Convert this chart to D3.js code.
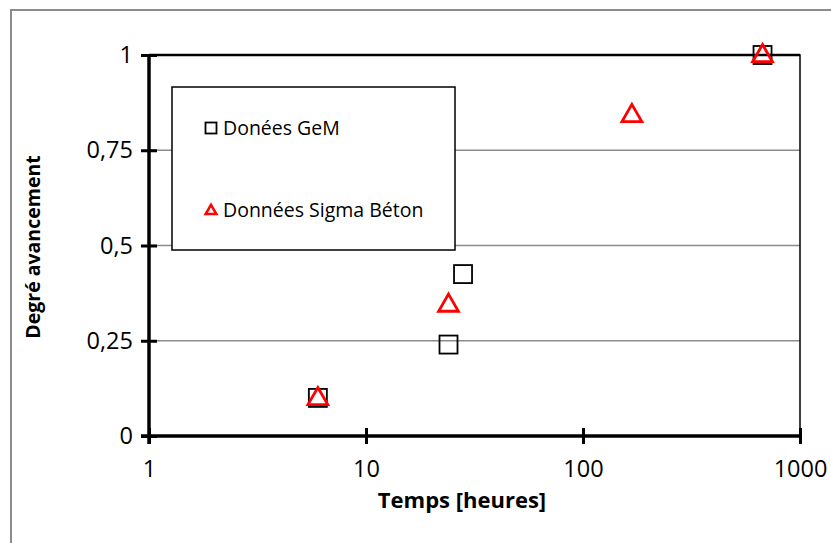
<!DOCTYPE html>
<html>
<head>
<meta charset="utf-8">
<script src="https://cdn.jsdelivr.net/npm/d3@7"></script>
<style>
  body { margin: 0; background: #fff; }
  svg { display: block; font-family: "Open Sans", sans-serif; }
</style>
</head>
<body>
<svg width="831" height="543"></svg>
<script>
// data
const gemHours = [6, 24, 28, 672];
const gemDegree = [0.1, 0.24, 0.425, 1];
const sigmaHours = [6, 24, 168, 672];
const sigmaDegree = [0.1, 0.345, 0.843, 1];
const yTicks = [0, 0.25, 0.5, 0.75, 1];
const yTickLabels = ["0", "0,25", "0,5", "0,75", "1"];
const xTicks = [1, 10, 100, 1000];
const legendLabels = ["Donées GeM", "Données Sigma Béton"];

const svg = d3.select("svg");
const x = d3.scaleLog().domain([1, 1000]).range([149, 800]);
const y = d3.scaleLinear().domain([0, 1]).range([436, 55]);

// outer frame (only top and left visible)
svg.append("path")
    .attr("d", "M11,543 V10 H831")
    .attr("fill", "none")
    .attr("stroke", "#8c8c8c")
    .attr("stroke-width", 2);

// grid
svg.append("g").selectAll("line")
    .data(yTicks.filter(d => d > 0 && d < 1))
    .enter().append("line")
    .attr("x1", x(1)).attr("x2", x(1000))
    .attr("y1", d => y(d)).attr("y2", d => y(d))
    .attr("stroke", "#8c8c8c")
    .attr("stroke-width", 1.5);

// top and right border of plot
svg.append("path")
    .attr("d", `M${x(1)},${y(1)} H${x(1000)} V${y(0)}`)
    .attr("fill", "none")
    .attr("stroke", "#000")
    .attr("stroke-width", 1.5);
svg.append("line")
    .attr("x1", x(1)).attr("x2", x(1000))
    .attr("y1", y(1)).attr("y2", y(1))
    .attr("stroke", "#000").attr("stroke-width", 2.5);

// y axis
const yAxis = svg.append("g")
    .attr("transform", `translate(${x(1)},0)`)
    .call(d3.axisLeft(y).tickValues(yTicks)
        .tickFormat((d, i) => yTickLabels[i]).tickSize(8).tickPadding(8));
yAxis.select(".domain").remove();
yAxis.selectAll(".tick line").attr("x2", 8).attr("x1", -8)
    .attr("stroke-width", 3);
yAxis.selectAll("text").attr("font-size", 23.5).attr("fill", "#000")
    .attr("font-family", "Open Sans");

// x axis
const xAxis = svg.append("g")
    .attr("transform", `translate(0,${y(0)})`)
    .call(d3.axisBottom(x).tickValues(xTicks)
        .tickFormat(d3.format("d")).tickSize(8).tickPadding(16));
xAxis.select(".domain").remove();
xAxis.selectAll(".tick line").attr("y1", -8).attr("y2", 8)
    .attr("stroke-width", 3);
xAxis.selectAll("text").attr("font-size", 23.5).attr("fill", "#000")
    .attr("font-family", "Open Sans");

svg.append("line")
    .attr("x1", x(1)).attr("x2", x(1)).attr("y1", y(1) - 1).attr("y2", y(0) + 8)
    .attr("stroke", "#000").attr("stroke-width", 3.5);
svg.append("line")
    .attr("x1", x(1) - 8).attr("x2", x(1000)).attr("y1", y(0)).attr("y2", y(0))
    .attr("stroke", "#000").attr("stroke-width", 3.5);

// legend
const legend = svg.append("g");
legend.append("rect")
    .attr("x", 172).attr("y", 87).attr("width", 283).attr("height", 163)
    .attr("fill", "#fff").attr("stroke", "#000").attr("stroke-width", 1.5);
legend.append("rect")
    .attr("x", 205.5).attr("y", 122.5).attr("width", 11).attr("height", 11)
    .attr("fill", "none").attr("stroke", "#000").attr("stroke-width", 1.8);
legend.append("path")
    .attr("d", d3.symbol(d3.symbolTriangle, 50)())
    .attr("transform", "translate(211,211)")
    .attr("fill", "none").attr("stroke", "#f00").attr("stroke-width", 2.5);
legend.selectAll("text")
    .data(legendLabels)
    .enter().append("text")
    .attr("x", 223)
    .attr("y", (d, i) => 135 + i * 82)
    .attr("font-size", 19.5)
    .text(d => d);

// series
const tri = d3.symbol(d3.symbolTriangle, 170);
svg.append("g").selectAll("rect")
    .data(gemHours)
    .enter().append("rect")
    .attr("x", d => x(d) - 9)
    .attr("y", (d, i) => y(gemDegree[i]) - 9)
    .attr("width", 18).attr("height", 18)
    .attr("fill", "none").attr("stroke", "#000").attr("stroke-width", 1.8);
svg.append("g").selectAll("path")
    .data(sigmaHours)
    .enter().append("path")
    .attr("d", tri())
    .attr("transform", (d, i) => `translate(${x(d)},${y(sigmaDegree[i]) + 1})`)
    .attr("fill", "none").attr("stroke", "#f00").attr("stroke-width", 2.8);

// axis titles
svg.append("text")
    .attr("x", 462).attr("y", 508)
    .attr("text-anchor", "middle")
    .attr("font-weight", "bold").attr("font-size", 22)
    .text("Temps [heures]");
svg.append("text")
    .attr("transform", "translate(40,247) rotate(-90)")
    .attr("text-anchor", "middle")
    .attr("font-weight", "bold").attr("font-size", 19.5)
    .text("Degré avancement");
</script>
</body>
</html>
